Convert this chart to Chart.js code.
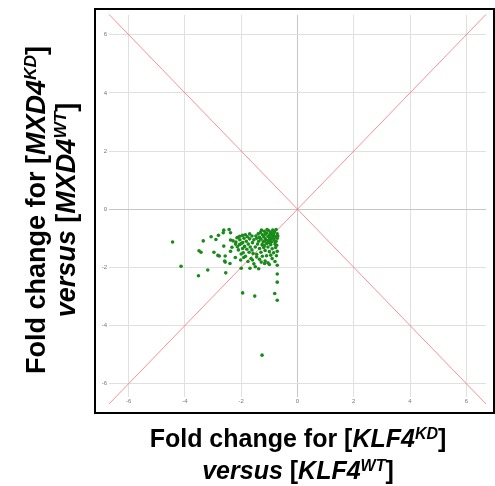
<!DOCTYPE html>
<html>
<head>
<meta charset="utf-8">
<script src="https://cdn.jsdelivr.net/npm/chart.js@4"></script>
<style>
  body { margin: 0; background: #fff; }
  #wrap { position: relative; width: 495px; height: 486px; overflow: hidden; }
  #chart { position: absolute; left: 0; top: 0; }
  #frame { position: absolute; left: 94px; top: 8px; width: 401px; height: 406px; box-sizing: border-box; border: 2px solid #000; }
  .ttl { position: absolute; font-family: "Liberation Sans", Arial, sans-serif; font-weight: bold; font-size: 25px; color: #000; text-align: center; white-space: nowrap; }
  .ttl i { font-style: italic; }
  .ttl sup { font-size: 0.64em; font-weight: bold; vertical-align: baseline; position: relative; top: -0.52em; }
  #xTitle { left: 88px; top: 424px; width: 420px; line-height: 28px; }
  #yTitle { left: -160px; top: 183px; width: 420px; height: 54px; line-height: 27px; font-size: 27px; transform: rotate(-90deg); }
</style>
</head>
<body>
<div id="wrap">
  <div id="frame"></div>
  <canvas id="chart" width="495" height="486"></canvas>
  <div class="ttl" id="yTitle">Fold change for [<i>MXD4<sup>KD</sup></i>]<br><i>versus</i> [<i>MXD4<sup>WT</sup></i>]</div>
  <div class="ttl" id="xTitle">Fold change for [<i>KLF4<sup>KD</sup></i>]<br><i>versus</i> [<i>KLF4<sup>WT</sup></i>]</div>
</div>
<script>
// fold change KLF4 (x) and MXD4 (y)
const foldKLF4 = [
  -4.44, -4.14, -3.52, -3.19, -3.35, -3.07, -2.81, -2.62, -2.64, -2.43,
  -2.38, -2.90, -2.62, -3.50, -3.43, -2.97, -2.83, -2.78, -2.57, -2.59,
  -2.57, -2.40, -2.55, -2.38, -2.21, -2.33, -2.38, -2.29, -2.19, -2.12,
  -2.05, -1.95, -2.14, -2.06, -2.00, -2.00, -1.93, -2.02, -1.91, -2.00,
  -1.95, -1.52, -1.69, -1.50, -1.38, -1.76, -1.60, -1.45, -1.29, -1.17,
  -1.05, -0.72, -0.72, -0.72, -0.81, -0.72, -1.26,
  -1.48, -1.40, -1.32, -1.25, -1.18, -1.10, -1.02, -0.95, -0.88, -0.82,
  -0.76, -0.72, -0.90, -1.05, -1.20, -1.35, -0.78, -0.98, -1.15, -0.85,
  -1.55, -1.45, -1.38, -1.30, -1.22, -1.14, -1.06, -0.98, -0.92, -0.84,
  -0.76, -0.72, -0.80, -0.95, -1.10, -1.26, -1.42, -1.60, -1.70, -1.00,
  -0.88, -1.18, -0.74,
  -1.50, -1.35, -1.20, -1.05, -0.90, -0.78, -0.72, -0.85, -1.00, -1.15,
  -1.30, -1.45, -1.62, -0.95, -0.75, -1.10, -1.25,
  -1.85, -1.78, -1.70, -1.62, -1.90, -1.82, -1.75, -1.95, -2.05, -2.15,
  -1.68, -1.80, -1.88, -2.20, -1.72, -1.58, -2.10, -1.95,
  -1.65, -1.35, -1.15, -0.90, -0.80, -1.85, -1.55, -1.00,
  -1.08, -0.84, -0.70, -1.28, -0.96, -1.16, -0.80, -1.02
];
const foldMXD4 = [
  -1.13, -1.96, -2.29, -2.09, -1.09, -0.95, -0.90, -0.72, -0.81, -0.70,
  -0.81, -1.04, -1.27, -1.43, -1.48, -1.48, -1.59, -1.61, -1.61, -1.78,
  -1.82, -1.87, -2.19, -1.45, -1.66, -1.31, -1.06, -1.09, -1.13, -0.97,
  -0.93, -0.90, -1.29, -1.22, -1.18, -1.54, -1.50, -1.75, -1.66, -2.03,
  -2.88, -2.99, -2.03, -1.98, -2.05, -1.80, -1.75, -1.64, -1.82, -1.87,
  -1.84, -1.93, -2.23, -2.51, -2.90, -3.13, -5.02,
  -0.92, -0.85, -0.80, -0.88, -0.76, -0.82, -0.74, -0.80, -0.72, -0.78,
  -0.70, -0.85, -0.90, -0.93, -0.95, -0.97, -0.95, -0.86, -0.86, -0.84,
  -1.05, -1.00, -1.10, -1.03, -1.12, -1.02, -1.08, -1.00, -1.12, -1.04,
  -1.10, -1.00, -1.20, -1.22, -1.18, -1.22, -1.20, -1.15, -1.02, -0.96,
  -0.98, -1.26, -1.24,
  -1.30, -1.35, -1.32, -1.30, -1.36, -1.32, -1.45, -1.50, -1.46, -1.42,
  -1.48, -1.55, -1.40, -1.58, -1.60, -1.60, -1.62,
  -0.88, -0.95, -0.85, -0.92, -1.00, -1.10, -1.20, -1.15, -1.05, -0.98,
  -1.30, -1.38, -1.28, -1.20, -1.48, -1.52, -1.40, -1.35,
  -1.70, -1.72, -1.78, -1.70, -1.80, -1.62, -1.88, -1.90,
  -0.70, -0.92, -0.92, -0.72, -1.05, -1.08, -1.12, -1.15
];
// equality / opposite lines
const diagX = [-6.7, 6.7];
const diagUp = [-6.7, 6.7];
const diagDown = [6.7, -6.7];
const xTickVals = [-6, -4, -2, 0, 2, 4, 6];
const yTickVals = [-6, -4, -2, 0, 2, 4, 6];

const points = foldKLF4.map((x, i) => ({ x: x, y: foldMXD4[i] }));
const lineUp = diagX.map((x, i) => ({ x: x, y: diagUp[i] }));
const lineDown = diagX.map((x, i) => ({ x: x, y: diagDown[i] }));

const gridColor = (c) => (c.tick && c.tick.value === 0) ? "#c6c6c6" : "#e0e0e0";
const tickFont = { family: "Liberation Sans, Arial, sans-serif", size: 6 };

new Chart(document.getElementById("chart"), {
  type: "scatter",
  data: {
    datasets: [
      { data: points, backgroundColor: "#1a8a1a", borderWidth: 0, pointRadius: 1.8, order: 0 },
      { type: "line", data: lineUp, borderColor: "rgba(245,110,110,0.75)", borderWidth: 1, pointRadius: 0, clip: false, order: 1 },
      { type: "line", data: lineDown, borderColor: "rgba(245,110,110,0.75)", borderWidth: 1, pointRadius: 0, clip: false, order: 1 }
    ]
  },
  options: {
    responsive: false,
    animation: false,
    layout: { padding: { left: 95, right: 9, top: 15, bottom: 79 } },
    plugins: { legend: { display: false }, tooltip: { enabled: false } },
    scales: {
      x: {
        type: "linear", min: -6.7, max: 6.7,
        afterBuildTicks: (s) => { s.ticks = xTickVals.map(v => ({ value: v })); },
        afterFit: (s) => { s.height = 10; },
        ticks: { includeBounds: false, padding: 1, color: "#777", font: tickFont, maxRotation: 0 },
        grid: { color: gridColor, drawTicks: false },
        border: { display: false }
      },
      y: {
        type: "linear", min: -6.46, max: 6.68,
        afterBuildTicks: (s) => { s.ticks = yTickVals.map(v => ({ value: v })); },
        afterFit: (s) => { s.width = 14; },
        ticks: { includeBounds: false, padding: 2, color: "#777", font: tickFont },
        grid: { color: gridColor, drawTicks: false },
        border: { display: false }
      }
    }
  }
});
</script>
</body>
</html>
